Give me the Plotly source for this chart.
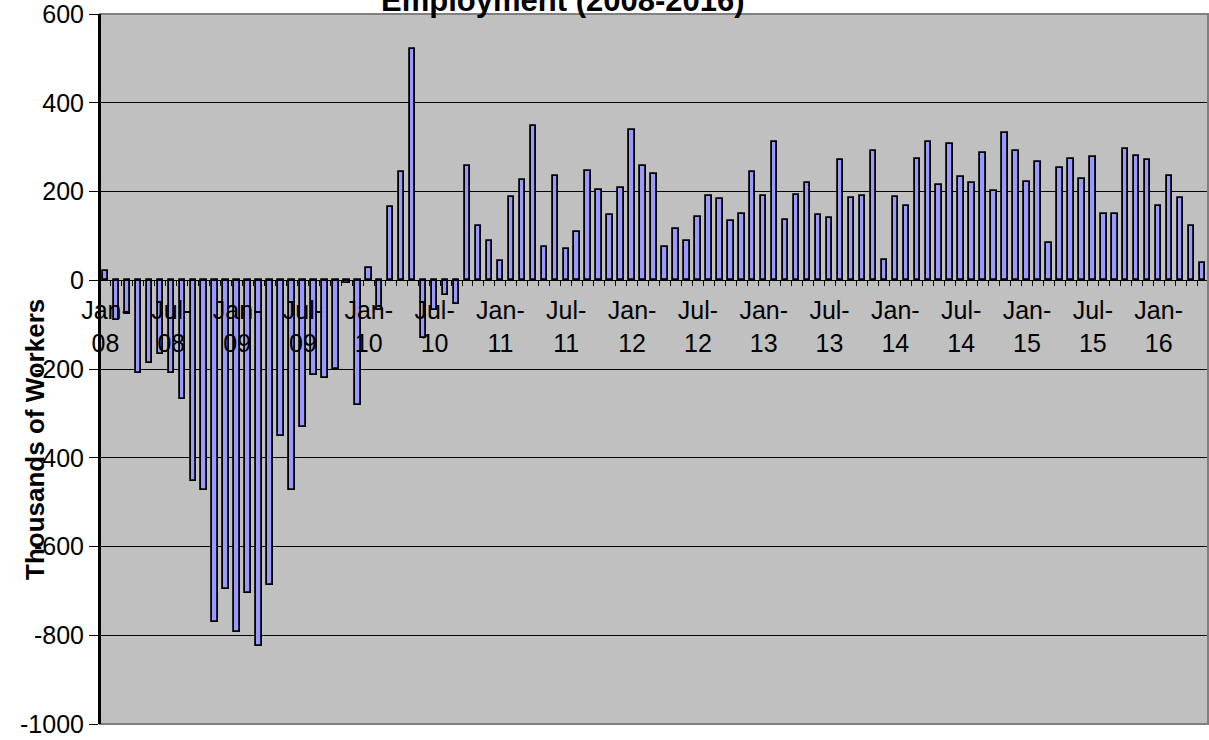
import plotly.graph_objs as go

# monthly change in employment, thousands, Jan-08 .. May-16
month_names = ["Jan", "Feb", "Mar", "Apr", "May", "Jun",
               "Jul", "Aug", "Sep", "Oct", "Nov", "Dec"]
years = ["08", "09", "10", "11", "12", "13", "14", "15", "16"]
months = [m + "-" + y for y in years for m in month_names][:101]

values = [
    20, -89, -77, -210, -186, -167, -210, -267, -453, -473, -770, -696,
    -793, -705, -824, -687, -351, -472, -330, -213, -220, -200, -7, -280,
    28, -68, 164, 243, 522, -131, -68, -34, -53, 258, 123, 89,
    43, 188, 225, 347, 74, 235, 71, 108, 246, 203, 146, 208,
    338, 258, 240, 75, 116, 88, 143, 190, 182, 134, 149, 244,
    190, 312, 136, 193, 219, 146, 140, 270, 186, 190, 291, 46,
    188, 168, 273, 311, 214, 306, 232, 219, 286, 201, 332, 292,
    222, 266, 85, 252, 273, 229, 278, 150, 149, 295, 281, 271,
    168, 234, 186, 123, 38,
]

tick_labels = ["Jan-08", "Jul-08", "Jan-09", "Jul-09", "Jan-10", "Jul-10",
               "Jan-11", "Jul-11", "Jan-12", "Jul-12", "Jan-13", "Jul-13",
               "Jan-14", "Jul-14", "Jan-15", "Jul-15", "Jan-16"]
y_ticks = [600, 400, 200, 0, -200, -400, -600, -800, -1000]

title_text = "Employment (2008-2016)"
y_title = "Thousands of Workers"

FONT = "Arial, Liberation Sans, sans-serif"
y_min, y_max = -1000, 600

xs = list(range(len(months)))

fig = go.Figure()
fig.add_trace(
    go.Bar(
        x=xs,
        y=values,
        customdata=months,
        hovertemplate="%{customdata}: %{y}<extra></extra>",
        width=0.5,
        marker=dict(color="#9999FF", line=dict(color="black", width=1.8)),
    )
)

zero_pos = (0 - y_min) / (y_max - y_min)

fig.update_layout(
    width=1209, height=740,
    margin=dict(l=100, r=1, t=14, b=16, autoexpand=False),
    paper_bgcolor="white",
    plot_bgcolor="#C0C0C0",
    showlegend=False,
    font=dict(family=FONT, size=25, color="black"),
    bargap=0,
    xaxis=dict(
        range=[-0.5, len(months) - 0.5],
        anchor="free", position=zero_pos,
        automargin=False,
        tickmode="array",
        tickvals=[months.index(t) for t in tick_labels],
        ticktext=[t.replace("-", "-<br>") for t in tick_labels],
        ticks="", showgrid=False, zeroline=False,
        ticklabelstandoff=8,
        showline=True, linecolor="black", linewidth=1,
        minor=dict(tickmode="array", tickvals=[i - 0.5 for i in range(len(months) + 1)],
                   ticks="outside", ticklen=5, tickcolor="black", showgrid=False),
        tickfont=dict(size=25),
    ),
    yaxis=dict(
        range=[y_min - 0.01, y_max + 0.01],
        automargin=False,
        tickmode="array", tickvals=y_ticks,
        ticktext=[str(v) for v in y_ticks],
        ticklabeloverflow="allow",
        ticks="outside", ticklen=9, tickcolor="black",
        showgrid=True, gridcolor="black", gridwidth=1,
        zeroline=False,
        showline=True, linecolor="black", linewidth=2,
        tickfont=dict(size=25),
    ),
    shapes=[
        dict(type="rect", xref="paper", yref="paper", x0=0, x1=1, y0=0, y1=1,
             line=dict(color="#808080", width=2), layer="above"),
        dict(type="line", xref="paper", yref="paper", x0=0, x1=0, y0=0, y1=1,
             line=dict(color="black", width=2), layer="above"),
    ],
    annotations=[
        dict(text="<b>" + title_text + "</b>", xref="paper", yref="paper",
             x=(563 - 100) / 1108, y=1, xanchor="center", yanchor="bottom",
             yshift=-6, showarrow=False, font=dict(size=31)),
        dict(text="<b>" + y_title + "</b>", xref="paper", yref="paper",
             x=(35 - 100) / 1108, y=(724 - 440) / 710, xanchor="center", yanchor="middle",
             textangle=-90, showarrow=False, font=dict(size=26)),
    ],
)

fig.write_html("out.html", config={"displayModeBar": False},
               post_script="document.body.style.margin='0';")
